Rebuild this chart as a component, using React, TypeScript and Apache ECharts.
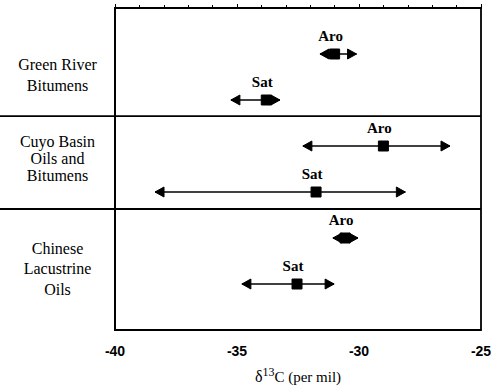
import React, { useEffect, useRef } from "react";
import * as echarts from "echarts";

const groupLabels = ["Green River\nBitumens", "Cuyo Basin\nOils and\nBitumens", "Chinese\nLacustrine\nOils"];
const fractionLabels = ["Aro", "Sat", "Aro", "Sat", "Aro", "Sat"];
const meanValues = [-31.0, -33.8, -29.0, -31.76, -30.57, -32.54];
const lowValues = [-31.6, -35.25, -32.3, -38.36, -31.07, -34.8];
const highValues = [-30.1, -33.24, -26.27, -28.1, -30.04, -31.02];
const xTicks = [-40, -35, -30, -25];

// layout positions on the row axis (0 at top, 7 at bottom)
const rowPositions = [1, 2, 3, 4, 5, 6];
const dividerPositions = [2.35, 4.37];
const groupLabelPositions = [1.46, 3.28, 5.67];

const SERIF = "Liberation Serif";
const SANS = "Liberation Sans";

export default function App() {
  const ref = useRef<HTMLDivElement>(null);
  useEffect(() => {
    if (!ref.current) return;
    const chart = echarts.init(ref.current, null, { renderer: "svg" });
    const intervalData = meanValues.map((m, i) => [m, rowPositions[i], lowValues[i], highValues[i], i]);
    const option: any = {
      animation: false,
      backgroundColor: "#fff",
      grid: {
        left: 115, right: 10, top: 8, bottom: 59,
        outerBoundsMode: "none",
        containLabel: false,
        show: true, borderColor: "#000", borderWidth: 1.8, backgroundColor: "transparent",
      },
      xAxis: {
        type: "value",
        min: xTicks[0],
        max: xTicks[xTicks.length - 1],
        interval: 5,
        axisLine: { show: true, lineStyle: { color: "#000", width: 1.8 } },
        axisTick: { show: true, inside: true, length: 4, lineStyle: { color: "#000", width: 1 } },
        minorTick: { show: true, splitNumber: 5, length: 3, lineStyle: { color: "#000", width: 1 } },
        splitLine: { show: false },
        axisLabel: { color: "#000", fontFamily: SANS, fontWeight: "bold", fontSize: 14, margin: 14 },
        name: "{d|δ}{s|13}{n|C (per mil)}",
        nameLocation: "middle",
        nameGap: 36,
        nameTextStyle: {
          rich: {
            d: { fontFamily: SERIF, fontSize: 16, color: "#000", verticalAlign: "bottom", lineHeight: 18 },
            s: { fontFamily: SERIF, fontSize: 12, color: "#000", verticalAlign: "top", lineHeight: 18 },
            n: { fontFamily: SERIF, fontSize: 15, color: "#000", verticalAlign: "bottom", lineHeight: 18 },
          },
        },
      },
      yAxis: {
        type: "value",
        min: 0,
        max: 7,
        inverse: true,
        axisLine: { show: true, lineStyle: { color: "#000", width: 1.8 } },
        axisTick: { show: false },
        axisLabel: { show: false },
        splitLine: { show: false },
      },
      series: [
        {
          type: "custom",
          clip: false,
          data: dividerPositions.map((d) => [d]),
          renderItem: (params: any, api: any) => {
            const cs = params.coordSys;
            const y = api.coord([xTicks[0], api.value(0)])[1];
            return {
              type: "line",
              shape: { x1: 0, y1: y, x2: cs.x + cs.width, y2: y },
              style: { stroke: "#000", lineWidth: 1.8 },
            };
          },
        },
        {
          type: "custom",
          clip: false,
          data: groupLabelPositions.map((p, i) => [p, i]),
          renderItem: (params: any, api: any) => {
            const cs = params.coordSys;
            const y = api.coord([xTicks[0], api.value(0)])[1];
            const i = api.value(1);
            const lines = groupLabels[i].split("\n");
            const lh = i === 1 ? 17 : 20.5;
            const y0 = y - ((lines.length - 1) * lh) / 2;
            return {
              type: "group",
              children: lines.map((t, k) => ({
                type: "text",
                x: cs.x / 2,
                y: y0 + k * lh,
                style: {
                  text: t,
                  fontFamily: SERIF,
                  fontSize: 16,
                  fill: "#000",
                  align: "center",
                  verticalAlign: "middle",
                },
              })),
            };
          },
        },
        {
          type: "custom",
          clip: false,
          data: intervalData,
          renderItem: (params: any, api: any) => {
            const m = api.coord([api.value(0), api.value(1)]);
            const lo = api.coord([api.value(2), api.value(1)]);
            const hi = api.coord([api.value(3), api.value(1)]);
            const idx = api.value(4);
            const y = m[1];
            const aL = 9;
            const aH = 5;
            const bs = 10;
            const st = { fill: "#000", stroke: "#000", lineWidth: 1 };
            return {
              type: "group",
              children: [
                { type: "line", shape: { x1: lo[0], y1: y, x2: hi[0], y2: y }, style: { stroke: "#000", lineWidth: 1.6 } },
                { type: "polygon", shape: { points: [[lo[0], y], [lo[0] + aL, y - aH], [lo[0] + aL, y + aH]] }, style: st },
                { type: "polygon", shape: { points: [[hi[0], y], [hi[0] - aL, y - aH], [hi[0] - aL, y + aH]] }, style: st },
                { type: "rect", shape: { x: m[0] - bs / 2, y: y - bs / 2, width: bs, height: bs }, style: st },
                {
                  type: "text",
                  x: m[0] - 4,
                  y: y - 18,
                  style: {
                    text: fractionLabels[idx],
                    fontFamily: SERIF,
                    fontSize: 15,
                    fontWeight: "bold",
                    fill: "#000",
                    align: "center",
                    verticalAlign: "middle",
                  },
                },
              ],
            };
          },
        },
      ],
    };
    chart.setOption(option);
    return () => chart.dispose();
  }, []);
  return <div ref={ref} style={{ width: 491, height: 389, position: "absolute", left: 0, top: 0 }} />;
}
